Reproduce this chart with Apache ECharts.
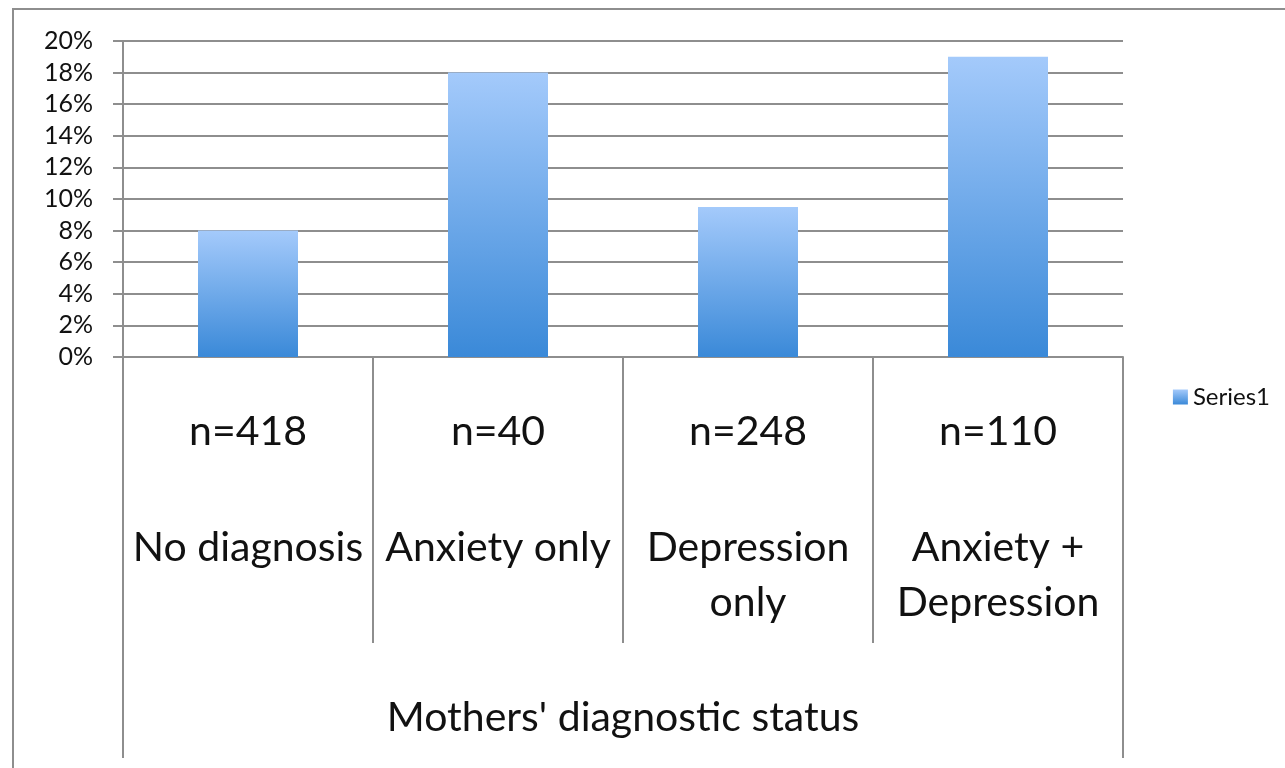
<!DOCTYPE html>
<html>
<head>
<meta charset="utf-8">
<script src="https://cdn.jsdelivr.net/npm/echarts@6/dist/echarts.min.js"></script>
<style>
  html, body { margin: 0; padding: 0; background: #fff; overflow: hidden; }
  #chart { position: absolute; left: 0; top: 0; width: 1285px; height: 768px; }
  #frame {
    position: absolute; left: 12px; top: 8px; width: 1400px; height: 900px;
    border-left: 2px solid #8e8e8e; border-top: 2px solid #8e8e8e;
    pointer-events: none;
  }
</style>
</head>
<body>
<div id="chart"></div>
<div id="frame"></div>
<script>
// 数据
const sampleSizes = ['n=418', 'n=40', 'n=248', 'n=110']
const diagnoses = ['No diagnosis', 'Anxiety only', 'Depression\nonly', 'Anxiety +\nDepression']
const groupTitle = ["Mothers' diagnostic status"]
const series1 = [0.08, 0.18, 0.095, 0.19]

const FONT = 'Lato'
const GREY = '#8e8e8e'

const barGradient = new echarts.graphic.LinearGradient(0, 0, 0, 1, [
  { offset: 0, color: '#a4cafb' },
  { offset: 1, color: '#3a89d8' },
])

const chart = echarts.init(document.getElementById('chart'))

const option = {
  animation: false,
  textStyle: { fontFamily: FONT, color: '#111' },
  legend: {
    data: ['Series1'],
    right: 10,
    top: 380,
    itemWidth: 15,
    itemHeight: 15,
    itemGap: 8,
    icon: 'rect',
    textStyle: { fontFamily: FONT, fontSize: 24, color: '#111' },
  },
  grid: {
    left: 123,
    right: 162,
    top: 41,
    bottom: 411,
  },
  xAxis: [
    {
      type: 'category',
      position: 'bottom',
      data: sampleSizes,
      axisLine: { show: true, lineStyle: { color: GREY, width: 2 } },
      axisTick: { show: true, interval: 0, length: 286, lineStyle: { color: GREY, width: 2 } },
      axisLabel: { interval: 0, margin: 54, fontSize: 41, fontFamily: FONT, color: '#111' },
    },
    {
      type: 'category',
      position: 'bottom',
      data: diagnoses,
      axisLine: { show: false },
      axisTick: { show: false },
      axisLabel: { interval: 0, margin: 163, fontSize: 41, lineHeight: 55, fontFamily: FONT, color: '#111' },
    },
    {
      type: 'category',
      position: 'bottom',
      data: groupTitle,
      axisLine: { show: false },
      axisTick: { show: true, interval: 0, length: 401, lineStyle: { color: GREY, width: 2 } },
      axisLabel: { interval: 0, margin: 340, fontSize: 41, fontFamily: FONT, color: '#111' },
    },
  ],
  yAxis: {
    type: 'value',
    min: 0,
    max: 0.2,
    interval: 0.02,
    axisLine: { show: true, lineStyle: { color: GREY, width: 2 } },
    axisTick: { show: true, length: 10, lineStyle: { color: GREY, width: 2 } },
    splitLine: { show: true, lineStyle: { color: GREY, width: 2 } },
    axisLabel: {
      margin: 30,
      fontSize: 25,
      fontFamily: FONT,
      color: '#111',
      formatter: (v) => Math.round(v * 100) + '%',
    },
  },
  series: [
    {
      name: 'Series1',
      type: 'bar',
      xAxisIndex: 0,
      barWidth: '40%',
      itemStyle: { color: barGradient },
      data: series1,
    },
  ],
}

chart.setOption(option)
</script>
</body>
</html>
